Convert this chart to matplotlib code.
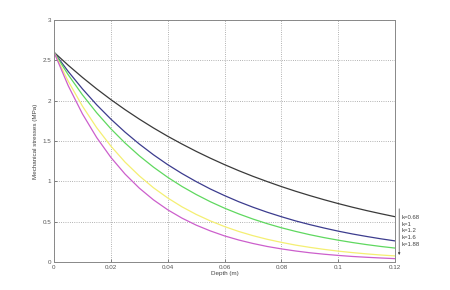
import matplotlib
matplotlib.use("Agg")
import matplotlib.pyplot as plt

plt.rcParams.update({"font.size": 4.5, "font.family": ["Liberation Sans", "DejaVu Sans"]})

# depth samples (m), every 5 mm
depth = [0.000, 0.005, 0.010, 0.015, 0.020, 0.025, 0.030, 0.035, 0.040, 0.045,
         0.050, 0.055, 0.060, 0.065, 0.070, 0.075, 0.080, 0.085, 0.090, 0.095,
         0.100, 0.105, 0.110, 0.115, 0.120]

# stresses (MPa)
s_068 = [2.600, 2.439, 2.288, 2.146, 2.013, 1.888, 1.771, 1.661, 1.558, 1.462,
         1.371, 1.286, 1.206, 1.131, 1.061, 0.996, 0.934, 0.876, 0.822, 0.771,
         0.723, 0.678, 0.636, 0.597, 0.560]
s_1 = [2.600, 2.362, 2.146, 1.949, 1.771, 1.609, 1.462, 1.328, 1.206, 1.096,
       0.996, 0.904, 0.822, 0.746, 0.678, 0.616, 0.560, 0.508, 0.462, 0.420,
       0.381, 0.346, 0.315, 0.286, 0.260]
s_12 = [2.600, 2.321, 2.072, 1.850, 1.651, 1.474, 1.316, 1.175, 1.049, 0.936,
        0.836, 0.746, 0.666, 0.595, 0.531, 0.474, 0.423, 0.378, 0.337, 0.301,
        0.269, 0.240, 0.214, 0.191, 0.171]
s_16 = [2.600, 2.241, 1.932, 1.665, 1.436, 1.237, 1.067, 0.919, 0.793, 0.683,
        0.589, 0.508, 0.438, 0.377, 0.325, 0.280, 0.242, 0.208, 0.180, 0.155,
        0.133, 0.115, 0.099, 0.085, 0.074]
s_188 = [2.600, 2.185, 1.836, 1.543, 1.296, 1.089, 0.915, 0.769, 0.646, 0.543,
         0.456, 0.384, 0.322, 0.271, 0.228, 0.191, 0.161, 0.135, 0.113, 0.095,
         0.080, 0.067, 0.057, 0.048, 0.040]

labels = ["k=0.68", "k=1", "k=1.2", "k=1.6", "k=1.88"]
series = [s_068, s_1, s_12, s_16, s_188]
colors = ["#3a3a3a", "#3c3c8e", "#5fd85f", "#f4ef72", "#cc5fcc"]

xticks = [0, 0.02, 0.04, 0.06, 0.08, 0.1, 0.12]
xticklabels = ["0", "0.02", "0.04", "0.06", "0.08", "0.1", "0.12"]
yticks = [0, 0.5, 1, 1.5, 2, 2.5, 3]
yticklabels = ["0", "0.5", "1", "1.5", "2", "2.5", "3"]

fig = plt.figure(figsize=(4.5, 2.9), dpi=100)
ax = fig.add_axes([0.12, 0.097, 0.758, 0.834])

for s, c in zip(series, colors):
    ax.plot(depth, s, color=c, lw=0.9)

ax.set_xlim(0, 0.12)
ax.set_ylim(0, 3)
ax.set_xticks(xticks)
ax.set_xticklabels(xticklabels)
ax.set_yticks(yticks)
ax.set_yticklabels(yticklabels)
ax.tick_params(direction="in", length=2, width=0.5, colors="#555555", pad=2)
ax.grid(True, linestyle=":", color="#999999", lw=0.6)
for sp in ax.spines.values():
    sp.set_color("#888888")
    sp.set_linewidth(0.7)

ax.set_xlabel("Depth (m)", labelpad=1, color="#444444")
ax.set_ylabel("Mechanical stresses (MPa)", labelpad=3, color="#444444")

# k arrow and labels on the right
ax.annotate("", xy=(1.012, 0.017), xytext=(1.012, 0.231), xycoords="axes fraction",
            arrowprops=dict(arrowstyle="-|>", lw=0.5, color="#444444",
                            mutation_scale=3), annotation_clip=False)
for i, lab in enumerate(labels):
    ax.text(1.018, 0.183 - i * 0.0275, lab, transform=ax.transAxes,
            fontsize=4.3, color="#444444", va="center", ha="left")

fig.savefig("out.png", dpi=100)
